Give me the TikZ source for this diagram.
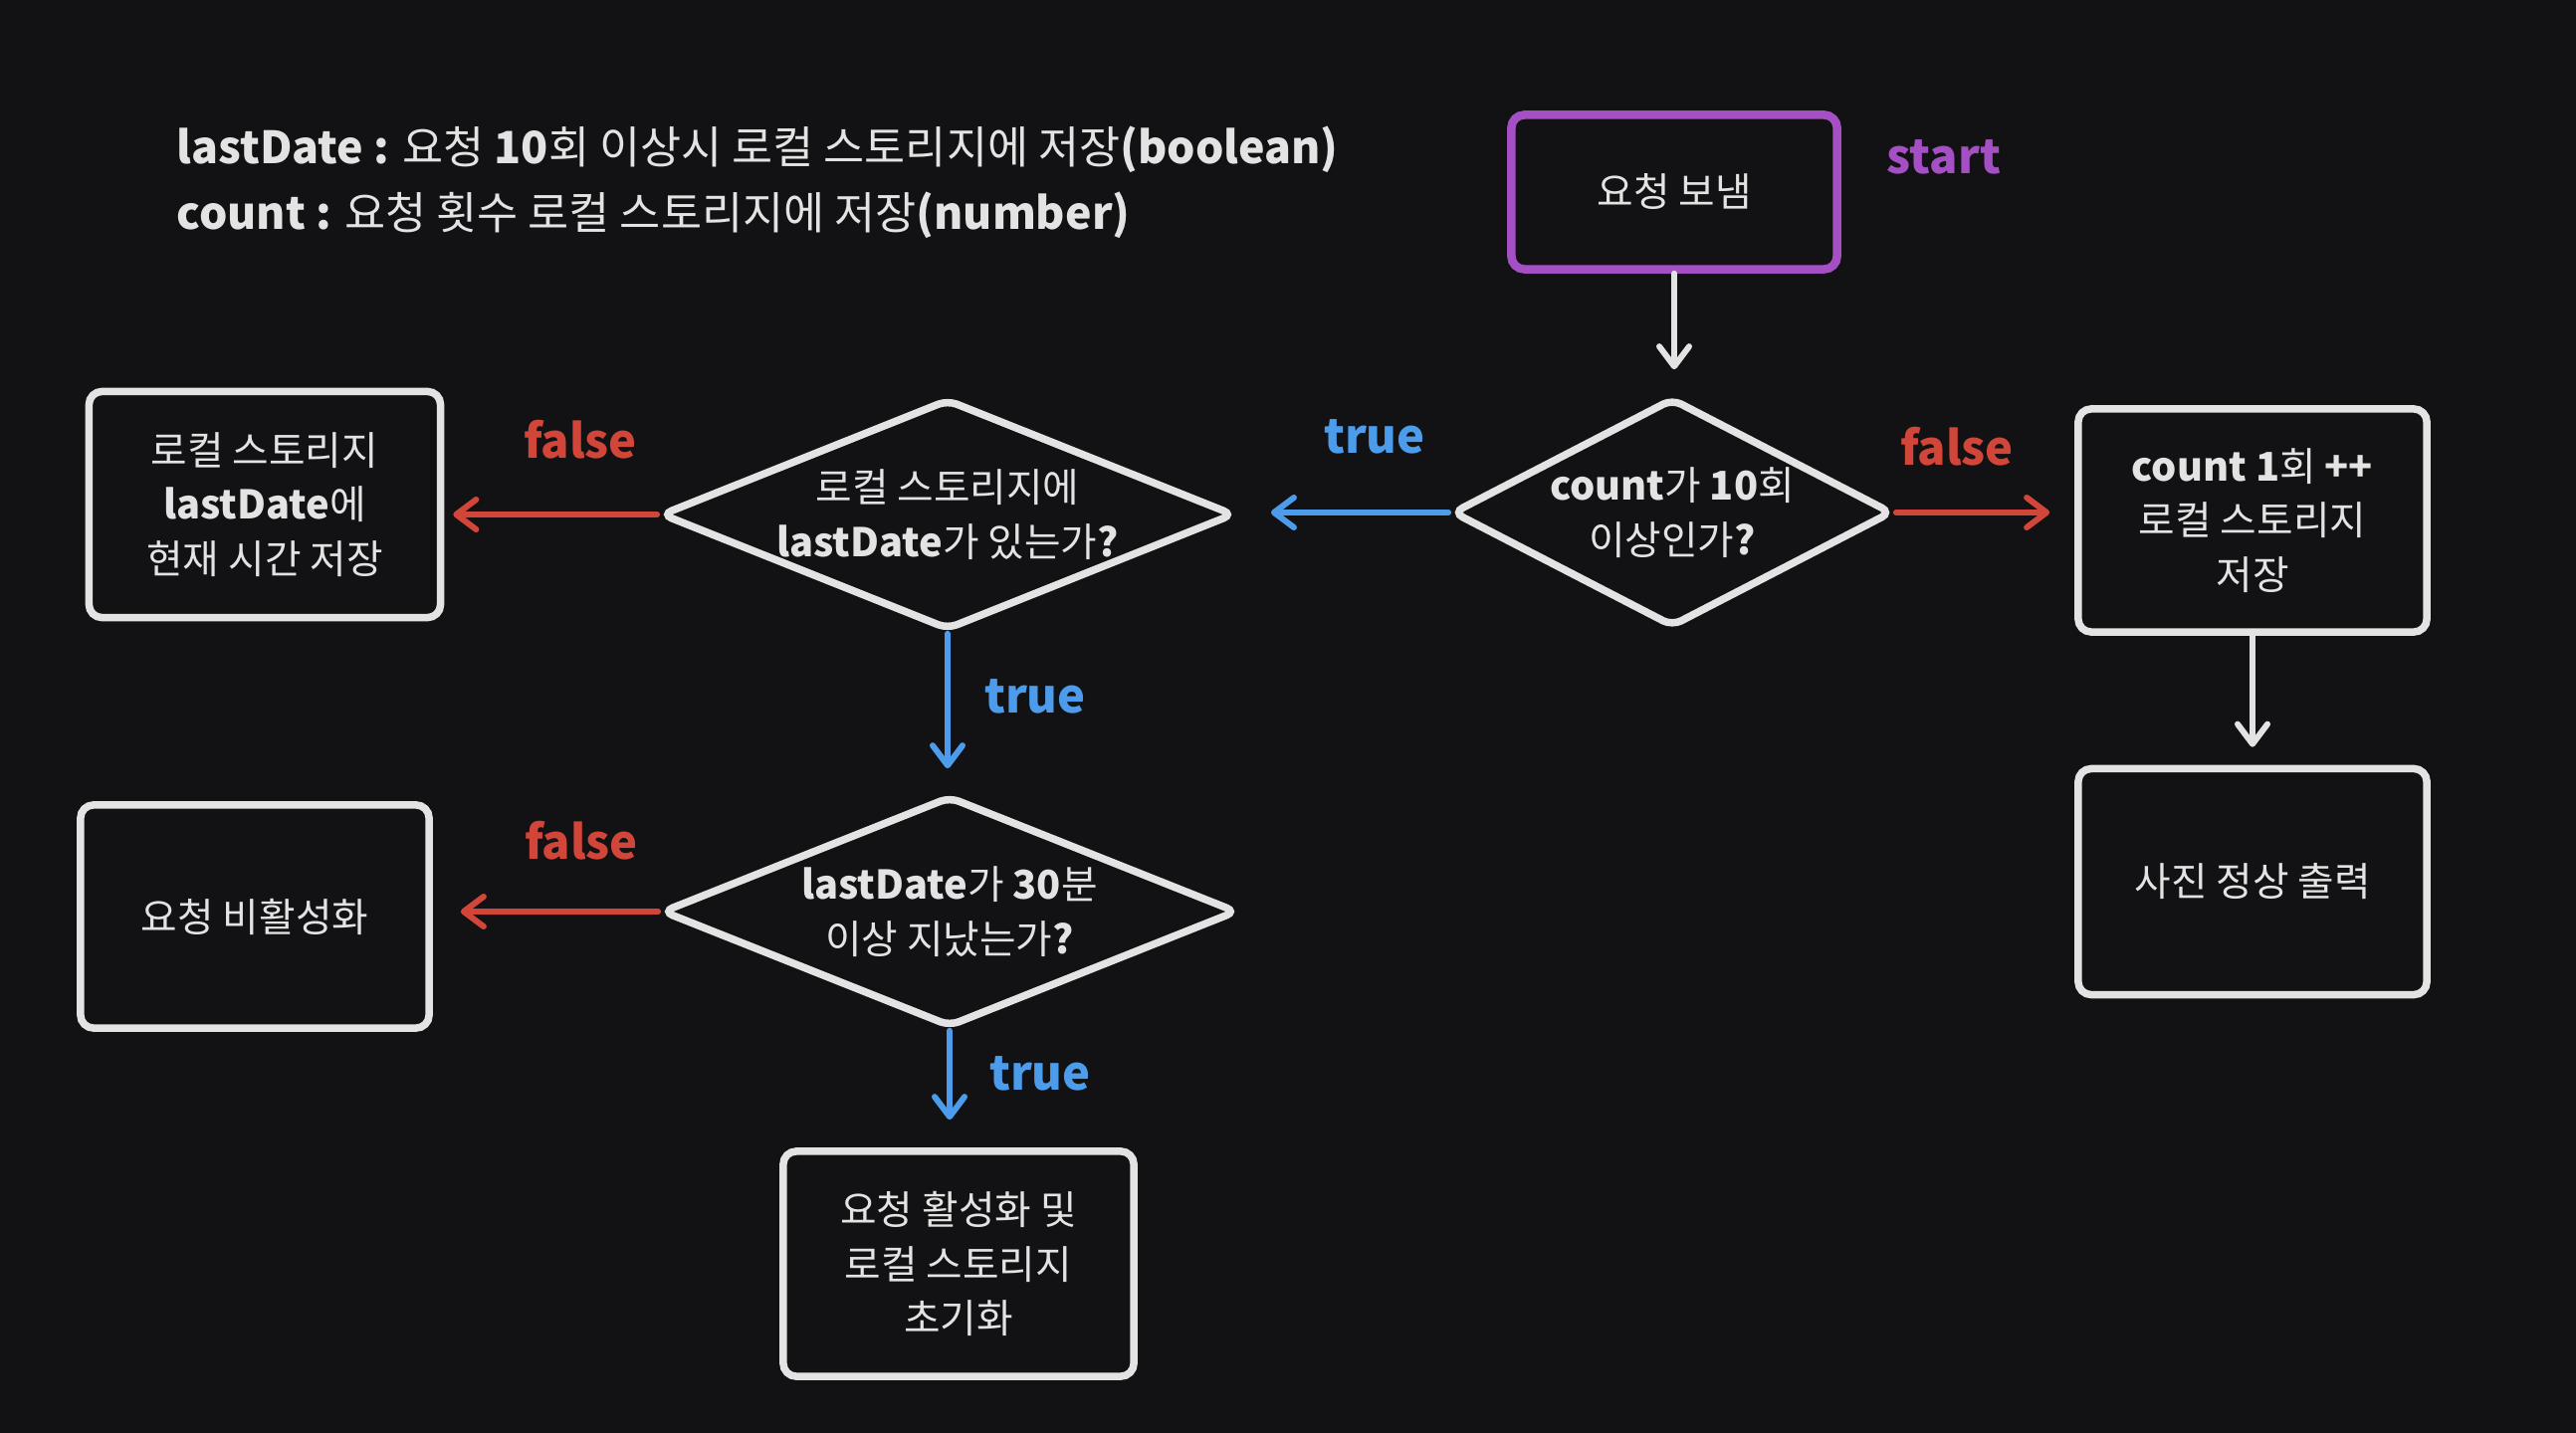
\documentclass[tikz,border=0pt]{standalone}
\usepackage{fontspec}
\setmainfont{Noto Sans CJK KR}
\usetikzlibrary{shapes.geometric,arrows.meta}
\definecolor{bgc}{HTML}{121214}
\definecolor{ink}{HTML}{E3E3E3}
\definecolor{purp}{HTML}{A44FC4}
\definecolor{redc}{HTML}{D2463A}
\definecolor{bluec}{HTML}{4C9CEB}
\newcommand\lt[1]{\textbf{#1}}
\begin{document}
\begin{tikzpicture}[x=0.01cm,y=-0.01cm,
  every node/.style={text=ink},
  txt/.style={font=\fontsize{11.3}{15.6}\selectfont, align=center},
  leg/.style={font=\fontsize{12.7}{14}\selectfont, anchor=west, inner sep=0pt},
  boxn/.style={txt, draw=ink, fill=bgc, line width=0.075cm, rounded corners=0.13cm, inner sep=0pt},
  dia/.style={txt, shape=diamond, draw=ink, fill=bgc, line width=0.075cm, rounded corners=0.1cm, inner sep=0pt, aspect=2.5},
  arr/.style={line width=0.06cm, line cap=round, -{Straight Barb[length=0.2cm,width=0.3cm,round]}},
  lbl/.style={font=\fontsize{13.4}{16}\selectfont\bfseries}
]
\fill[bgc] (0,0) rectangle (2588,1440);
\useasboundingbox (0,0) rectangle (2588,1440);

\node[leg] (leg1) at (177,150) {\lt{lastDate :} 요청 \lt{10}회 이상시 로컬 스토리지에 저장\lt{(boolean)}};
\node[leg] (leg2) at (177,216) {\lt{count :} 요청 횟수 로컬 스토리지에 저장\lt{(number)}};

\node[boxn, draw=purp, line width=0.085cm, minimum width=3.27cm, minimum height=1.55cm] (send) at (1682,193) {요청 보냄};
\node[lbl, text=purp] (startl) at (1953,158) {start};

\node[dia, aspect=1.8, minimum width=4.42cm, minimum height=2.30cm] (d1) at (1680,515) {\lt{count}가 \lt{10}회\\이상인가\lt{?}};
\node[boxn, minimum width=3.50cm, minimum height=2.24cm] (b1) at (2263,523) {\lt{count 1}회 \lt{++}\\로컬 스토리지\\저장};
\node[boxn, minimum width=3.50cm, minimum height=2.27cm] (b2) at (2263,886) {사진 정상 출력};
\node[dia, minimum width=5.76cm, minimum height=2.32cm] (d2) at (952,517) {로컬 스토리지에\\\lt{lastDate}가 있는가\lt{?}};
\node[boxn, minimum width=3.53cm, minimum height=2.27cm] (b3) at (266,507) {로컬 스토리지\\\lt{lastDate}에\\현재 시간 저장};
\node[dia, minimum width=5.78cm, minimum height=2.32cm] (d3) at (954,916) {\lt{lastDate}가 \lt{30}분\\이상 지났는가\lt{?}};
\node[boxn, minimum width=3.50cm, minimum height=2.24cm] (b4) at (256,921) {요청 비활성화};
\node[boxn, minimum width=3.52cm, minimum height=2.26cm] (b5) at (963,1270) {요청 활성화 및\\로컬 스토리지\\초기화};

\draw[arr, draw=ink, shorten >=0.25cm] (send.south) -- (send.south |- d1.north);
\draw[arr, draw=redc, shorten >=0.25cm] (d1.east) -- (d1.east -| b1.west);
\draw[arr, draw=bluec, shorten >=0.33cm] (d1.west) -- (d1.west -| d2.east);
\draw[arr, draw=redc, shorten >=0.09cm] (d2.west) -- (d2.west -| b3.east);
\draw[arr, draw=bluec, shorten >=0.24cm] (d2.south) -- (d2.south |- d3.north);
\draw[arr, draw=redc, shorten >=0.28cm] (d3.west) -- (d3.west -| b4.east);
\draw[arr, draw=bluec, shorten >=0.28cm] (d3.south) -- (d3.south |- b5.north);
\draw[arr, draw=ink, shorten >=0.18cm] (b1.south) -- (b1.south |- b2.north);

\node[lbl, text=redc] (f1) at (1966,449) {false};
\node[lbl, text=bluec] (t1) at (1381,439) {true};
\node[lbl, text=redc] (f2) at (583,442) {false};
\node[lbl, text=bluec] (t2) at (1040,700) {true};
\node[lbl, text=redc] (f3) at (584,845) {false};
\node[lbl, text=bluec] (t3) at (1045,1079) {true};
\end{tikzpicture}
\end{document}
